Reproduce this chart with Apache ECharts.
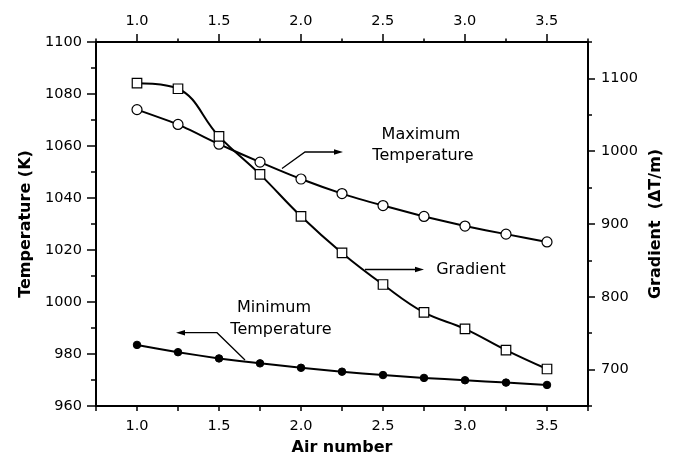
<!DOCTYPE html>
<html>
<head>
<meta charset="utf-8">
<script src="https://cdn.jsdelivr.net/npm/echarts@6/dist/echarts.min.js"></script>
<style>
html,body{margin:0;padding:0;background:#fff;}
#c{width:677px;height:456px;}
</style>
</head>
<body>
<div id="c"></div>
<script>
const airNumber = [1.0, 1.25, 1.5, 1.75, 2.0, 2.25, 2.5, 2.75, 3.0, 3.25, 3.5];
const maxTemp = [1074.0, 1068.3, 1060.7, 1053.8, 1047.3, 1041.7, 1037.1, 1032.9, 1029.2, 1026.1, 1023.1];
const gradient = [1093.5, 1085.8, 1020.4, 968.2, 910.6, 860.3, 816.9, 778.5, 756.0, 726.8, 700.8];
const minTemp = [983.5, 980.7, 978.3, 976.4, 974.7, 973.2, 971.9, 970.8, 969.9, 969.0, 968.1];

const FONT = 'DejaVu Sans';
const zip = (xs, ys) => xs.map((x, i) => [x, ys[i]]);

const chart = echarts.init(document.getElementById('c'), null, {renderer: 'canvas'});

const lineAx = {show: true, onZero: false, lineStyle: {color: '#000', width: 2}};
const noLine = {show: false, onZero: false};
const lbl = (extra) => Object.assign({color: '#000', fontFamily: FONT, fontSize: 14.5}, extra);
const txt = (s, x, y) => ({type: 'text', z: 10, style: {text: s, x: x, y: y, textAlign: 'center', textVerticalAlign: 'middle', font: '16px "DejaVu Sans"', fill: '#000'}});

const option = {
  animation: false,
  backgroundColor: '#fff',
  grid: [
    {left: 96, right: 89, top: 42, bottom: 50, containLabel: false, outerBoundsMode: 'none'},
    {left: 137, right: 130.3, top: 42, bottom: 50, containLabel: false, outerBoundsMode: 'none'},
    {left: 96, right: 89, top: 78.4, bottom: 86.4, containLabel: false, outerBoundsMode: 'none'}
  ],
  xAxis: [
    {
      gridIndex: 0, type: 'value', position: 'bottom', min: 0.75, max: 3.75, interval: 0.25,
      axisLine: lineAx, splitLine: {show: false},
      axisTick: {show: true, length: 5, lineStyle: {color: '#000', width: 1.5}},
      axisLabel: lbl({margin: 13, formatter: v => (Math.abs(v * 2 - Math.round(v * 2)) < 1e-6 ? v.toFixed(1) : '')}),
      name: 'Air number', nameLocation: 'middle', nameGap: 34,
      nameTextStyle: {color: '#000', fontFamily: FONT, fontWeight: 'bold', fontSize: 16}
    },
    {
      gridIndex: 0, type: 'value', position: 'top', min: 0.75, max: 3.75, interval: 0.25,
      axisLine: lineAx, splitLine: {show: false},
      axisTick: {show: true, length: 3.5, lineStyle: {color: '#000', width: 1.5}},
      axisLabel: {show: false}
    },
    {
      gridIndex: 1, type: 'value', position: 'top', min: 1.0, max: 3.5, interval: 0.5,
      axisLine: noLine, splitLine: {show: false},
      axisTick: {show: true, length: 8, lineStyle: {color: '#000', width: 1.5}},
      axisLabel: lbl({margin: 13, formatter: v => v.toFixed(1)})
    },
    {
      gridIndex: 2, type: 'value', show: false, min: 0, max: 1, axisLine: noLine
    }
  ],
  yAxis: [
    {
      gridIndex: 0, type: 'value', position: 'left', min: 960, max: 1100, interval: 20,
      axisLine: lineAx, splitLine: {show: false},
      axisTick: {show: true, length: 9, lineStyle: {color: '#000', width: 1.5}},
      minorTick: {show: true, splitNumber: 2, length: 5, lineStyle: {color: '#000', width: 1.5}},
      minorSplitLine: {show: false},
      axisLabel: lbl({margin: 14, formatter: v => String(v)}),
      name: 'Temperature (K)', nameLocation: 'middle', nameGap: 60, nameRotate: 90,
      nameTextStyle: {color: '#000', fontFamily: FONT, fontWeight: 'bold', fontSize: 16}
    },
    {
      gridIndex: 0, type: 'value', position: 'right', min: 650, max: 1150, interval: 50,
      axisLine: lineAx, splitLine: {show: false},
      axisTick: {show: true, length: 4, lineStyle: {color: '#000', width: 1.5}},
      axisLabel: {show: false},
      name: 'Gradient  (\u0394T/m)', nameLocation: 'middle', nameGap: 60, nameRotate: 90,
      nameTextStyle: {color: '#000', fontFamily: FONT, fontWeight: 'bold', fontSize: 16}
    },
    {
      gridIndex: 2, type: 'value', position: 'right', min: 700, max: 1100, interval: 100,
      axisLine: noLine, splitLine: {show: false},
      axisTick: {show: true, length: 7, lineStyle: {color: '#000', width: 1.5}},
      axisLabel: lbl({margin: 13, formatter: v => String(v)})
    },
    {
      gridIndex: 1, type: 'value', show: false, min: 0, max: 1, axisLine: noLine
    }
  ],
  series: [
    {
      name: 'Maximum Temperature', type: 'line', xAxisIndex: 0, yAxisIndex: 0,
      data: zip(airNumber, maxTemp), smooth: 0.15,
      symbol: 'circle', symbolSize: 10, showAllSymbol: true,
      lineStyle: {color: '#000', width: 2},
      itemStyle: {color: '#fff', borderColor: '#000', borderWidth: 1.2},
      z: 3
    },
    {
      name: 'Gradient', type: 'line', xAxisIndex: 0, yAxisIndex: 1,
      data: zip(airNumber, gradient), smooth: 0.4,
      symbol: 'rect', symbolSize: 9.5, showAllSymbol: true,
      lineStyle: {color: '#000', width: 2},
      itemStyle: {color: '#fff', borderColor: '#000', borderWidth: 1.2},
      z: 3
    },
    {
      name: 'Minimum Temperature', type: 'line', xAxisIndex: 0, yAxisIndex: 0,
      data: zip(airNumber, minTemp), smooth: 0.15,
      symbol: 'circle', symbolSize: 7.5, showAllSymbol: true,
      lineStyle: {color: '#000', width: 2},
      itemStyle: {color: '#000', borderColor: '#000', borderWidth: 1},
      z: 3
    }
  ],
  graphic: [
    txt('Maximum', 421, 135),
    txt('Temperature', 423, 156),
    {type: 'polyline', z: 10, shape: {points: [[282, 168.5], [305, 152], [336, 152]]}, style: {stroke: '#000', lineWidth: 1.3, fill: null}},
    {type: 'polygon', z: 10, shape: {points: [[343, 152], [334, 149.3], [334, 154.7]]}, style: {fill: '#000'}},
    txt('Gradient', 471, 270),
    {type: 'polyline', z: 10, shape: {points: [[365, 269.5], [417, 269.5]]}, style: {stroke: '#000', lineWidth: 1.3, fill: null}},
    {type: 'polygon', z: 10, shape: {points: [[424, 269.5], [415, 266.8], [415, 272.2]]}, style: {fill: '#000'}},
    txt('Minimum', 274, 308),
    txt('Temperature', 281, 330),
    {type: 'polyline', z: 10, shape: {points: [[245, 360], [217, 332.7], [183, 332.7]]}, style: {stroke: '#000', lineWidth: 1.3, fill: null}},
    {type: 'polygon', z: 10, shape: {points: [[176, 332.7], [185, 330], [185, 335.4]]}, style: {fill: '#000'}}
  ]
};
chart.setOption(option);
</script>
</body>
</html>
